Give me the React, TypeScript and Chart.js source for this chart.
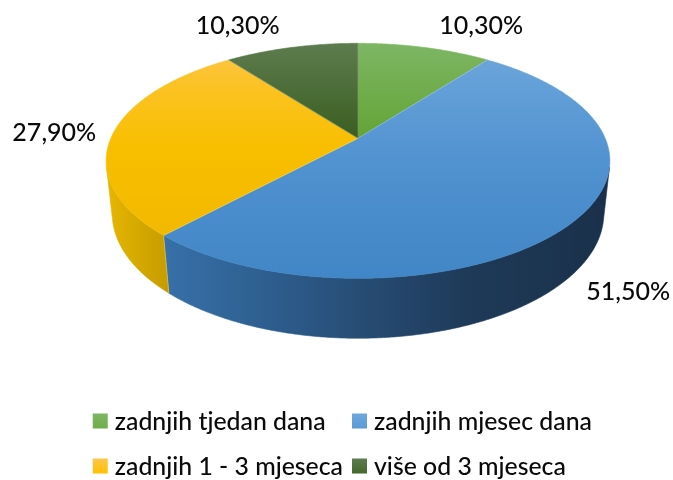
import React, { useEffect, useRef } from "react";
import { Chart, registerables } from "chart.js";

Chart.register(...registerables);

// ---- data ----
const categories = [
  "zadnjih tjedan dana",
  "zadnjih mjesec dana",
  "zadnjih 1 - 3 mjeseca",
  "više od 3 mjeseca",
];
const shares = [10.3, 51.5, 27.9, 10.3];

// ---- style ----
const baseColors = ["#70AD47", "#5B9BD5", "#FFC000", "#43682B"];
const topStops: [number, string][][] = [
  [[0, "#7DB664"], [0.4, "#64A436"], [1, "#5A9A2C"]],
  [[0, "#6EA7DC"], [0.5, "#5192D0"], [1, "#4186C6"]],
  [[0, "#FDC64C"], [0.2, "#FBC220"], [0.45, "#F8BF00"], [1, "#EEB600"]],
  [[0, "#5D7C4E"], [0.4, "#3A5E21"], [1, "#345A1C"]],
];
const sideStops: [number, string][][] = [
  [[0, "#5E9A38"], [1, "#2A4A16"]],
  [[0, "#4580BD"], [0.12, "#3670A8"], [0.29, "#2F6193"], [0.5, "#274D75"], [0.72, "#1E3A58"], [1, "#1A304A"]],
  [[0, "#E6B600"], [0.13, "#C49B00"], [1, "#6A5200"]],
  [[0, "#3A5C22"], [1, "#1C2E10"]],
];
const VIEW = { cx: 358, cy: 138.3, scale: 247.2, tiltDeg: 27.25, distance: 4.642, thickness: 0.2423 };
const FONT = "Lato, 'Open Sans', sans-serif";
const WEIGHT = "500";
const TEXT_COLOR = "#0a0a0a";

const fmt = (v: number) => v.toFixed(2).replace(".", ",") + "%";

function fitSize(ctx: CanvasRenderingContext2D, sample: string, target: number) {
  ctx.font = `${WEIGHT} 100px ${FONT}`;
  const w = ctx.measureText(sample).width;
  return (100 * target) / w;
}

const pie3d = {
  id: "pie3d",
  beforeDatasetsDraw(chart: any) {
    const ctx: CanvasRenderingContext2D = chart.ctx;
    const meta = chart.getDatasetMeta(0);
    const arcs = meta.data.map((el: any) => ({ a: el.startAngle as number, b: el.endAngle as number }));

    const tilt = (VIEW.tiltDeg * Math.PI) / 180;
    const sa = Math.sin(tilt), ca = Math.cos(tilt);
    const D = VIEW.distance, F = VIEW.scale * D;
    const cx = VIEW.cx, cy = VIEW.cy;
    const zb = -VIEW.thickness;
    const proj = (X: number, Y: number, Z: number) => {
      const yc = Y * sa + Z * ca;
      const zc = D + Y * ca - Z * sa;
      return { x: cx + (F * X) / zc, y: cy - (F * yc) / zc };
    };
    const rim = (th: number, Z: number) => proj(Math.cos(th), -Math.sin(th), Z);
    const step = Math.PI / 360;
    const samples = (a: number, b: number) => {
      const n = Math.max(2, Math.ceil((b - a) / step));
      const out: number[] = [];
      for (let i = 0; i <= n; i++) out.push(a + ((b - a) * i) / n);
      return out;
    };

    // extents
    let xL = Infinity, xR = -Infinity;
    for (const th of samples(-Math.PI, Math.PI)) {
      const p = rim(th, 0);
      xL = Math.min(xL, p.x);
      xR = Math.max(xR, p.x);
    }
    const yTop = rim(-Math.PI / 2, 0).y;
    const yBot = rim(Math.PI / 2, 0).y;

    const s0 = 1 / (D * ca);
    const v1 = Math.asin(Math.min(1, s0));
    const v2 = Math.PI - v1;

    ctx.save();
    // sides
    arcs.forEach((arc: any, i: number) => {
      const lo = Math.max(arc.a, v1), hi = Math.min(arc.b, v2);
      if (lo >= hi) return;
      const g = ctx.createLinearGradient(xL, 0, xR, 0);
      sideStops[i].forEach(([o, c]) => g.addColorStop(o, c));
      ctx.beginPath();
      const ts = samples(lo, hi);
      ts.forEach((th, k) => {
        const p = rim(th, 0);
        if (k === 0) ctx.moveTo(p.x, p.y);
        else ctx.lineTo(p.x, p.y);
      });
      for (let k = ts.length - 1; k >= 0; k--) {
        const p = rim(ts[k], zb);
        ctx.lineTo(p.x, p.y);
      }
      ctx.closePath();
      ctx.fillStyle = g;
      ctx.fill();
      ctx.strokeStyle = g;
      ctx.lineWidth = 0.6;
      ctx.stroke();
    });
    // side seams
    arcs.forEach((arc: any) => {
      const th = arc.a;
      if (th > v1 && th < v2) {
        const p = rim(th, 0), q = rim(th, zb);
        ctx.beginPath();
        ctx.moveTo(p.x, p.y);
        ctx.lineTo(q.x, q.y);
        ctx.strokeStyle = "rgba(255,255,255,0.25)";
        ctx.lineWidth = 1;
        ctx.stroke();
      }
    });
    // tops
    const apex = proj(0, 0, 0);
    arcs.forEach((arc: any, i: number) => {
      const g = ctx.createLinearGradient(0, yTop, 0, yBot);
      topStops[i].forEach(([o, c]) => g.addColorStop(o, c));
      ctx.beginPath();
      ctx.moveTo(apex.x, apex.y);
      samples(arc.a, arc.b).forEach((th) => {
        const p = rim(th, 0);
        ctx.lineTo(p.x, p.y);
      });
      ctx.closePath();
      ctx.fillStyle = g;
      ctx.fill();
      ctx.strokeStyle = g;
      ctx.lineWidth = 0.6;
      ctx.stroke();
    });
    // radial seams on top
    arcs.forEach((arc: any) => {
      const p = rim(arc.a, 0);
      ctx.beginPath();
      ctx.moveTo(apex.x, apex.y);
      ctx.lineTo(p.x, p.y);
      ctx.strokeStyle = "rgba(255,255,255,0.22)";
      ctx.lineWidth = 1;
      ctx.stroke();
    });

    // data labels
    const labelSize = fitSize(ctx, fmt(10.3), 84);
    ctx.font = `${WEIGHT} ${labelSize}px ${FONT}`;
    ctx.fillStyle = TEXT_COLOR;
    ctx.textBaseline = "middle";
    const boxH = labelSize * 0.82;
    arcs.forEach((arc: any, i: number) => {
      const mid = (arc.a + arc.b) / 2;
      const X = Math.cos(mid), Y = -Math.sin(mid);
      const front = Math.sin(mid) > s0;
      const anc = front ? proj(X, Y, zb) : proj(X, Y, 0);
      let ux = anc.x - cx, uy = anc.y - cy;
      const len = Math.hypot(ux, uy) || 1;
      ux /= len;
      uy /= len;
      const gapX = 12 + 8 * ux * ux;
      let x = anc.x;
      if (ux > 0.25) {
        ctx.textAlign = "left";
        x += gapX;
      } else if (ux < -0.25) {
        ctx.textAlign = "right";
        x -= gapX - 3;
      } else ctx.textAlign = "center";
      const y = anc.y + uy * (boxH / 2 + 16);
      ctx.fillText(fmt(shares[i]), x, y);
    });

    // legend (2 x 2 grid)
    const legSize = fitSize(ctx, categories[0], 211);
    ctx.font = `${WEIGHT} ${legSize}px ${FONT}`;
    const widths = categories.map((c) => ctx.measureText(c).width);
    const box = 15, gap = 7, colGap = 9;
    const maxW = Math.max(...widths);
    const colW = box + gap + maxW + colGap;
    const total = colW + box + gap + maxW;
    const legCenter = 347.5;
    const x0 = legCenter - total / 2;
    const rowY = [421, 466];
    ctx.textAlign = "left";
    ctx.textBaseline = "middle";
    categories.forEach((c, i) => {
      const col = i % 2, row = Math.floor(i / 2);
      const bx = x0 + col * colW;
      const by = rowY[row];
      const g = ctx.createLinearGradient(0, by - box / 2, 0, by + box / 2);
      g.addColorStop(0, topStops[i][0][1]);
      g.addColorStop(1, baseColors[i]);
      ctx.fillStyle = g;
      ctx.fillRect(bx, by - box / 2, box, box);
      ctx.fillStyle = TEXT_COLOR;
      ctx.fillText(c, bx + box + gap, by + 1);
    });
    ctx.restore();
    return false;
  },
};

export default function App() {
  const ref = useRef<HTMLCanvasElement | null>(null);
  useEffect(() => {
    if (!ref.current) return;
    const chart = new Chart(ref.current, {
      type: "pie",
      data: {
        labels: categories,
        datasets: [{ data: shares, backgroundColor: baseColors, borderWidth: 0 }],
      },
      options: {
        animation: false,
        responsive: false,
        layout: { padding: { left: 43 } },
        plugins: { legend: { display: false }, tooltip: { enabled: false } },
      },
      plugins: [pie3d as any],
    });
    return () => chart.destroy();
  }, []);
  return (
    <div style={{ position: "absolute", left: 0, top: 0, width: 673, height: 480, background: "#fff" }}>
      <canvas ref={ref} width={673} height={480} style={{ display: "block" }} />
    </div>
  );
}
